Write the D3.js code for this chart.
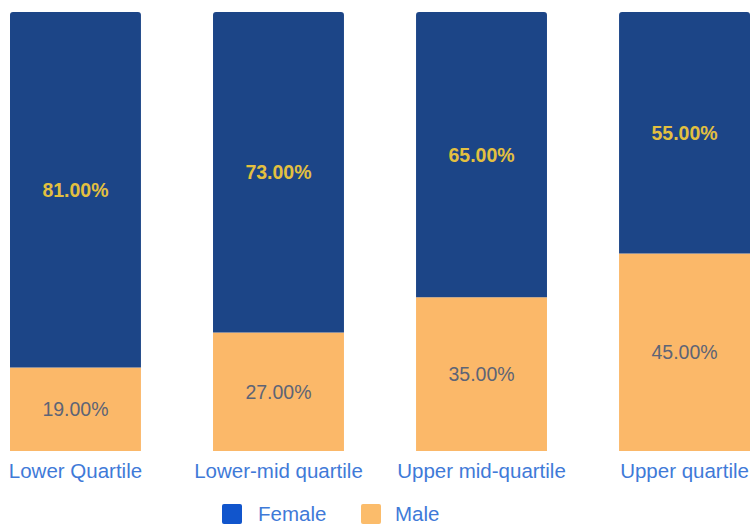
<!DOCTYPE html>
<html>
<head>
<meta charset="utf-8">
<script src="https://cdn.jsdelivr.net/npm/d3@7"></script>
<style>
  body { margin: 0; background: #fff; }
  svg { display: block; font-family: "Liberation Sans", Arial, sans-serif; }
</style>
</head>
<body>
<div id="chart"></div>
<script>
const categories = ["Lower Quartile", "Lower-mid quartile", "Upper mid-quartile", "Upper quartile"];
const female = [81, 73, 65, 55];
const male = [19, 27, 35, 45];
const seriesNames = ["Female", "Male"];

const width = 750, height = 524;
const colors = { Female: "#1c4587", Male: "#fbb869" };
const swatch = { Female: "#1155cc", Male: "#fbbc6b" };
const labelColors = { Female: "#e3c040", Male: "#5d6476" };

const svg = d3.select("#chart").append("svg")
  .attr("width", width)
  .attr("height", height);

const x = d3.scaleBand().domain(categories).range([10, 750]).paddingInner(0.355).paddingOuter(0);
const y = d3.scaleLinear().domain([0, 100]).range([451, 12]);

const dataset = categories.map((c, i) => ({ cat: c, Female: female[i], Male: male[i] }));
const stacked = d3.stack().keys(["Male", "Female"])(dataset);

const r = 3;
stacked.forEach(layer => {
  const key = layer.key;
  svg.append("g").selectAll("path").data(layer).enter().append("path")
    .attr("fill", colors[key])
    .attr("d", d => {
      const x0 = x(d.data.cat), x1 = x0 + x.bandwidth();
      const yt = y(d[1]), yb = y(d[0]);
      if (key === "Female") {
        return `M${x0},${yb}V${yt + r}Q${x0},${yt} ${x0 + r},${yt}H${x1 - r}Q${x1},${yt} ${x1},${yt + r}V${yb}Z`;
      }
      return `M${x0},${yb}V${yt}H${x1}V${yb}Z`;
    });

  svg.append("g").selectAll("text").data(layer).enter().append("text")
    .attr("x", d => x(d.data.cat) + x.bandwidth() / 2)
    .attr("y", d => (y(d[0]) + y(d[1])) / 2)
    .attr("dy", "0.35em")
    .attr("text-anchor", "middle")
    .attr("font-size", 19.5)
    .attr("font-weight", key === "Female" ? "bold" : "normal")
    .attr("fill", labelColors[key])
    .text(d => (d[1] - d[0]).toFixed(2) + "%");
});

// category labels
svg.append("g").selectAll("text").data(categories).enter().append("text")
  .attr("x", d => x(d) + x.bandwidth() / 2)
  .attr("y", 471)
  .attr("dy", "0.35em")
  .attr("text-anchor", "middle")
  .attr("font-size", 20.5)
  .attr("fill", "#3f7ad8")
  .text(d => d);

// legend
const legendX = [222, 361];
const legend = svg.append("g").selectAll("g").data(seriesNames).enter().append("g")
  .attr("transform", (d, i) => `translate(${legendX[i]},504)`);
legend.append("rect").attr("width", 20).attr("height", 20).attr("rx", 2).attr("fill", d => swatch[d]);
legend.append("text")
  .attr("x", (d, i) => i === 0 ? 36 : 34)
  .attr("y", 10)
  .attr("dy", "0.35em")
  .attr("font-size", 20.5)
  .attr("fill", "#3f7ad8")
  .text(d => d);
</script>
</body>
</html>
